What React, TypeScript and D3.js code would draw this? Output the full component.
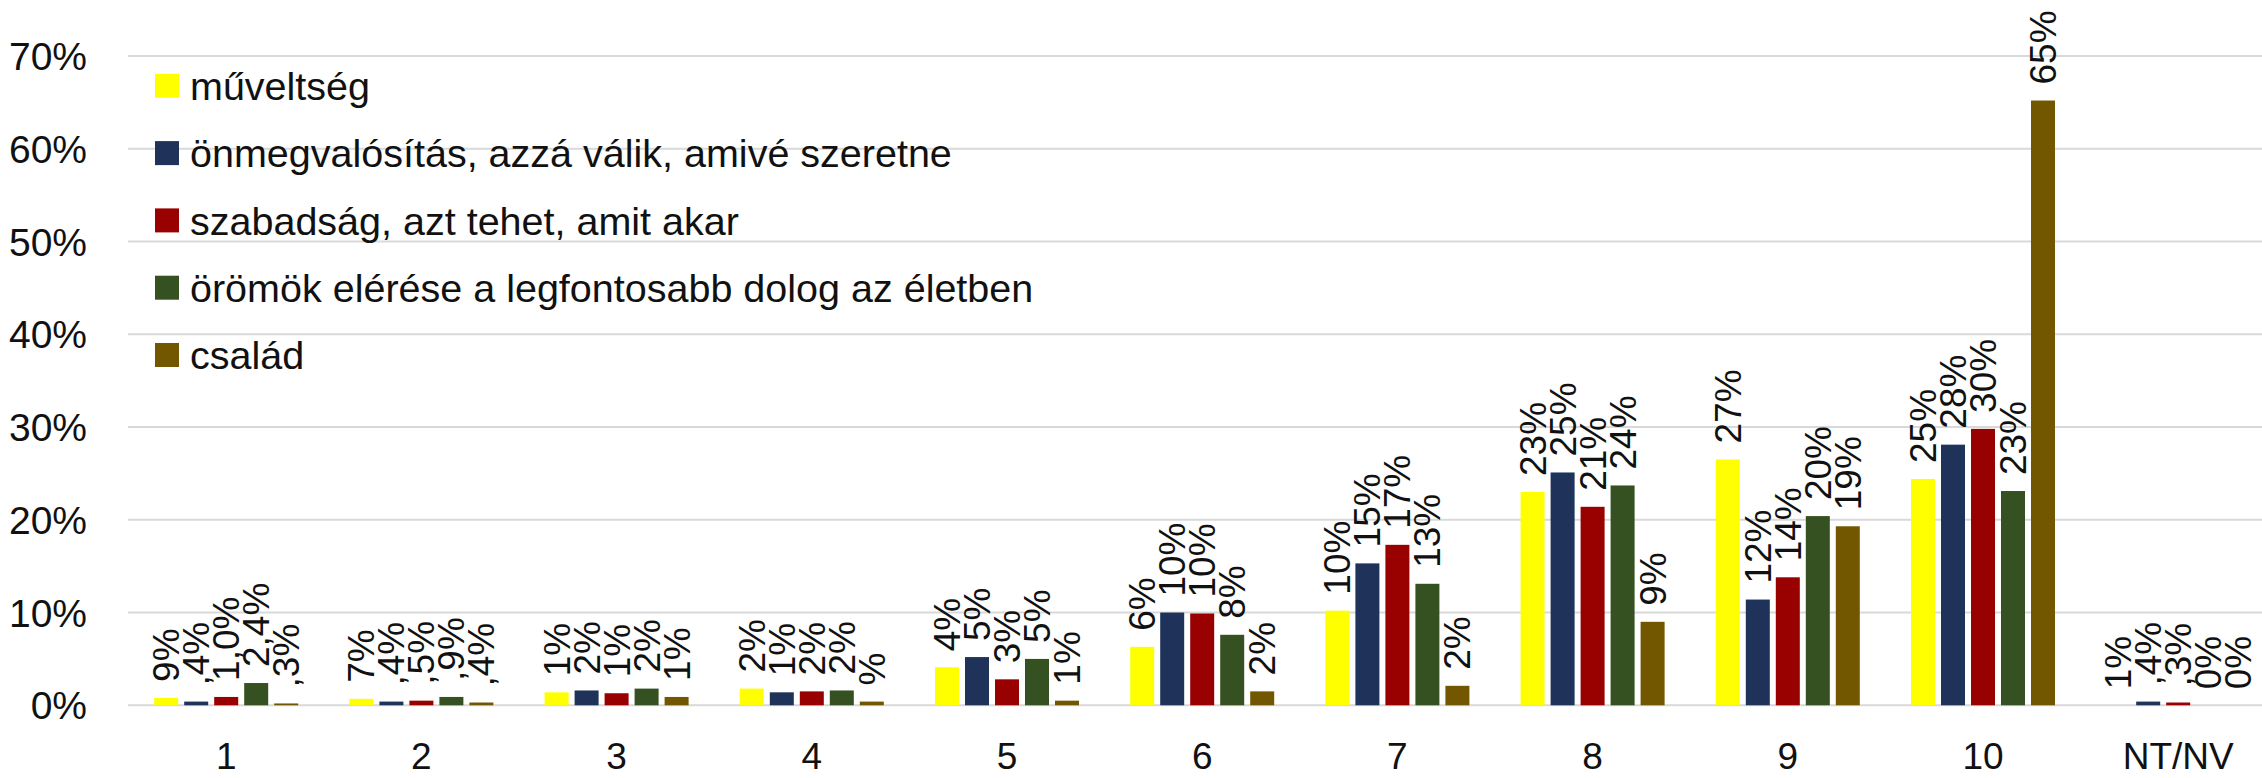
import React from "react";
import * as d3 from "d3";

const categories = ["1", "2", "3", "4", "5", "6", "7", "8", "9", "10", "NT/NV"];
const seriesNames = [
  "műveltség",
  "önmegvalósítás, azzá válik, amivé szeretne",
  "szabadság, azt tehet, amit akar",
  "örömök elérése a legfontosabb dolog az életben",
  "család",
];
const seriesColors = ["#FFFF00", "#1F3259", "#990000", "#355021", "#735700"];

const muveltseg = [0.8, 0.7, 1.4, 1.8, 4.1, 6.3, 10.2, 23.0, 26.5, 24.4, 0];
const onmegvalositas = [0.4, 0.4, 1.6, 1.4, 5.2, 10.0, 15.3, 25.1, 11.4, 28.1, 0.4];
const szabadsag = [0.9, 0.5, 1.3, 1.5, 2.8, 9.9, 17.3, 21.4, 13.8, 29.8, 0.3];
const oromok = [2.4, 0.9, 1.8, 1.6, 5.0, 7.6, 13.1, 23.7, 20.4, 23.1, 0];
const csalad = [0.2, 0.3, 0.9, 0.4, 0.5, 1.5, 2.1, 9.0, 19.3, 65.2, 0];

const labelsMuveltseg = ["9%", "7%", "1%", "2%", "4%", "6%", "10%", "23%", "27%", "25%", "1%"];
const labelsOnmeg = [",4%", ",4%", "2%", "1%", "5%", "10%", "15%", "25%", "12%", "28%", ",4%"];
const labelsSzabadsag = ["1,0%", ",5%", "1%", "2%", "3%", "10%", "17%", "21%", "14%", "30%", ",3%"];
const labelsOromok = ["2,4%", ",9%", "2%", "2%", "5%", "8%", "13%", "24%", "20%", "23%", "0%"];
const labelsCsalad = [",3%", ",4%", "1%", "%", "1%", "2%", "2%", "9%", "19%", "65%", "0%"];

const yTicks = [0, 10, 20, 30, 40, 50, 60, 70];

const W = 2262;
const H = 778;
const FONT = "'Liberation Sans', Arial, sans-serif";

export default function App() {
  const allValues = [muveltseg, onmegvalositas, szabadsag, oromok, csalad];
  const allLabels = [labelsMuveltseg, labelsOnmeg, labelsSzabadsag, labelsOromok, labelsCsalad];

  const x0 = d3.scaleBand<string>().domain(categories).range([128.6, 128.6 + 11 * 195.2]).padding(0);
  const x1 = d3
    .scaleBand<string>()
    .domain(seriesNames)
    .range([-75, 75])
    .paddingInner(0.2)
    .paddingOuter(0.1);
  const y = d3.scaleLinear().domain([0, 70]).range([705.3, 56]);

  return (
    <div style={{ position: "absolute", left: 0, top: 0 }}>
      <svg width={W} height={H} style={{ display: "block", background: "#fff" }} fontFamily={FONT}>
        {yTicks.map((t) => (
          <line key={"g" + t} x1={128} x2={W} y1={y(t)} y2={y(t)} stroke="#D9D9D9" strokeWidth={2} />
        ))}
        {yTicks.map((t) => (
          <text key={"yl" + t} x={87} y={y(t)} dy="0.36em" textAnchor="end" fontSize={39} fill="#111">
            {t + "%"}
          </text>
        ))}
        {seriesNames.map((s, si) =>
          categories.map((c, ci) => {
            const v = allValues[si][ci];
            const cx = (x0(c) ?? 0) + x0.bandwidth() / 2;
            const bx = cx + (x1(s) ?? 0);
            return (
              <rect
                key={"b" + si + "-" + ci}
                x={bx}
                y={y(v)}
                width={x1.bandwidth()}
                height={y(0) - y(v)}
                fill={seriesColors[si]}
              />
            );
          })
        )}
        {seriesNames.map((s, si) =>
          categories.map((c, ci) => {
            const v = allValues[si][ci];
            const cx = (x0(c) ?? 0) + x0.bandwidth() / 2 + (x1(s) ?? 0) + x1.bandwidth() / 2;
            const ty = y(v) - 16;
            return (
              <text
                key={"l" + si + "-" + ci}
                transform={`translate(${cx},${ty}) rotate(-90)`}
                dy="0.35em"
                textAnchor="start"
                fontSize={37}
                fill="#111"
              >
                {allLabels[si][ci]}
              </text>
            );
          })
        )}
        {categories.map((c) => (
          <text
            key={"xl" + c}
            x={(x0(c) ?? 0) + x0.bandwidth() / 2}
            y={769}
            textAnchor="middle"
            fontSize={37}
            fill="#111"
          >
            {c}
          </text>
        ))}
        {seriesNames.map((s, si) => {
          const cy = 85.8 + si * 67.3;
          return (
            <g key={"lg" + si}>
              <rect x={155} y={cy - 12} width={24} height={24} fill={seriesColors[si]} />
              <text x={190} y={cy} dy="0.36em" fontSize={39.5} fill="#111">
                {s}
              </text>
            </g>
          );
        })}
      </svg>
    </div>
  );
}
